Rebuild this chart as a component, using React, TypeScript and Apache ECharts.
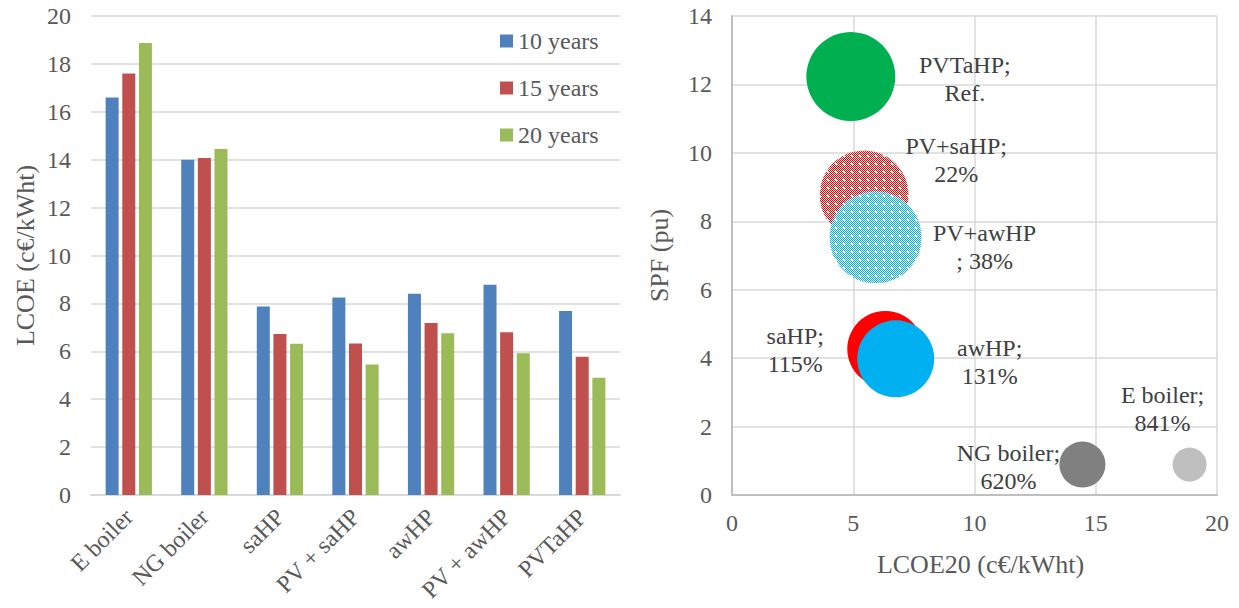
import React, { useEffect, useRef } from 'react';
import * as echarts from 'echarts';

// ---- Left chart data (LCOE by lifetime) ----
const categories = ['E boiler', 'NG boiler', 'saHP', 'PV + saHP', 'awHP', 'PV + awHP', 'PVTaHP'];
const seriesNames = ['10 years', '15 years', '20 years'];
const years10 = [16.6, 14.0, 7.87, 8.25, 8.4, 8.78, 7.68];
const years15 = [17.6, 14.07, 6.72, 6.33, 7.18, 6.8, 5.77];
const years20 = [18.87, 14.45, 6.32, 5.45, 6.75, 5.92, 4.9];

// ---- Right chart data (SPF vs LCOE20) ----
const bubbleNames = ['E boiler', 'NG boiler', 'saHP', 'awHP', 'PV+saHP', 'PV+awHP', 'PVTaHP'];
const bubbleLabels = ['E boiler;\n841%', 'NG boiler;\n620%', 'saHP;\n115%', 'awHP;\n131%', 'PV+saHP;\n22%', 'PV+awHP\n; 38%', 'PVTaHP;\nRef.'];
const bubbleLcoe20 = [18.87, 14.45, 6.32, 6.75, 5.45, 5.92, 4.9];
const bubbleSpf = [0.89, 0.89, 4.27, 3.98, 8.77, 7.53, 12.23];
const bubbleSize = [34, 46, 76, 77, 89, 92, 89];

// ---- styling / layout ----
const barColors = ['#4F81BD', '#C0504D', '#9BBB59'];
const bubbleColors = ['#BFBFBF', '#808080', '#FF0000', '#00B0F0', 'pattern:#FF0000', 'pattern:#00B0F0', '#00B050'];
const labelOffsets: [number, number][] = [[-27, -56], [-74, 2], [-90, 1], [94, 3], [92, -35], [109, 10], [114, 2]];

const FONT = "'Liberation Serif', 'Times New Roman', serif";

function makePattern(color: string) {
  const n = 8;
  const c = document.createElement('canvas');
  c.width = n;
  c.height = n;
  const ctx = c.getContext('2d')!;
  ctx.fillStyle = '#ffffff';
  ctx.fillRect(0, 0, n, n);
  ctx.fillStyle = color;
  for (let y = 0; y < n; y++) {
    for (let x = 0; x < n; x++) {
      const checker = (x + y) % 2 === 0;
      const dot = (x === 3 || x === 4) && (y === 3 || y === 4);
      if (checker && !dot) ctx.fillRect(x, y, 1, 1);
    }
  }
  return { image: c.toDataURL(), repeat: 'repeat', imageWidth: n, imageHeight: n } as any;
}

export default function App() {
  const ref = useRef<HTMLDivElement>(null);
  useEffect(() => {
    if (!ref.current) return;
    const chart = echarts.init(ref.current, undefined, { renderer: 'svg' });
    const fills = bubbleColors.map((c) => (c.startsWith('pattern:') ? makePattern(c.slice(8)) : c));
    const tickLabel = { fontFamily: FONT, fontSize: 24, color: '#595959' };
    const splitLine = { show: true, lineStyle: { color: '#D9D9D9', width: 1.5 } };
    const titleStyle = { fontFamily: FONT, fontSize: 26, color: '#595959' };
    const option: any = {
      animation: false,
      backgroundColor: '#ffffff',
      textStyle: { fontFamily: FONT },
      legend: {
        data: seriesNames,
        orient: 'vertical',
        left: 495,
        top: 24,
        itemWidth: 13,
        itemHeight: 13,
        itemGap: 23,
        icon: 'rect',
        textStyle: { fontFamily: FONT, fontSize: 24, color: '#595959' },
      },
      grid: [
        { left: 91, top: 16, width: 529, height: 479 },
        { left: 732, top: 16, width: 485, height: 479 },
      ],
      xAxis: [
        {
          type: 'category',
          gridIndex: 0,
          data: categories,
          axisTick: { show: false },
          axisLine: { lineStyle: { color: '#D9D9D9', width: 2 } },
          axisLabel: { ...tickLabel, rotate: 45, margin: 18, interval: 0 },
        },
        {
          type: 'value',
          gridIndex: 1,
          min: 0,
          max: 20,
          interval: 5,
          axisLine: { show: true, lineStyle: { color: '#BFBFBF', width: 2 } },
          axisTick: { show: false },
          splitLine,
          axisLabel: { ...tickLabel, margin: 16 },
          name: 'LCOE20 (c€/kWht)',
          nameLocation: 'middle',
          nameGap: 56,
          nameTextStyle: { ...titleStyle, padding: [0, 0, 0, 12] },
        },
      ],
      yAxis: [
        {
          type: 'value',
          gridIndex: 0,
          min: 0,
          max: 20,
          interval: 2,
          axisLine: { show: false },
          axisTick: { show: false },
          splitLine,
          axisLabel: { ...tickLabel, margin: 20 },
          name: 'LCOE (c€/kWht)',
          nameLocation: 'middle',
          nameGap: 53,
          nameTextStyle: titleStyle,
        },
        {
          type: 'value',
          gridIndex: 1,
          min: 0,
          max: 14,
          interval: 2,
          axisLine: { show: true, lineStyle: { color: '#BFBFBF', width: 2 } },
          axisTick: { show: false },
          splitLine,
          axisLabel: { ...tickLabel, margin: 20 },
          name: 'SPF (pu)',
          nameLocation: 'middle',
          nameGap: 60,
          nameTextStyle: titleStyle,
        },
      ],
      series: [
        ...[years10, years15, years20].map((d, i) => ({
          type: 'bar',
          name: seriesNames[i],
          xAxisIndex: 0,
          yAxisIndex: 0,
          data: d,
          barWidth: 13,
          barGap: '28%',
          itemStyle: { color: barColors[i] },
        })),
        {
          type: 'custom',
          xAxisIndex: 1,
          yAxisIndex: 1,
          clip: false,
          data: bubbleLcoe20.map((x, i) => ({ value: [x, bubbleSpf[i]], name: bubbleNames[i] })),
          renderItem: (params: any, api: any) => {
            const i = params.dataIndex;
            const pt = api.coord([api.value(0), api.value(1)]);
            const off = labelOffsets[i];
            return {
              type: 'group',
              children: [
                {
                  type: 'circle',
                  shape: { cx: pt[0], cy: pt[1], r: bubbleSize[i] / 2 },
                  style: { fill: fills[i] },
                },
                {
                  type: 'text',
                  x: pt[0] + off[0],
                  y: pt[1] + off[1],
                  style: {
                    text: bubbleLabels[i],
                    fontFamily: FONT,
                    fontSize: 24,
                    lineHeight: 28,
                    fill: '#404040',
                    align: 'center',
                    verticalAlign: 'middle',
                  },
                },
              ],
            };
          },
        },
      ],
    };
    chart.setOption(option);
    return () => chart.dispose();
  }, []);
  return <div ref={ref} style={{ position: 'fixed', left: 0, top: 0, width: 1239, height: 608 }} />;
}
